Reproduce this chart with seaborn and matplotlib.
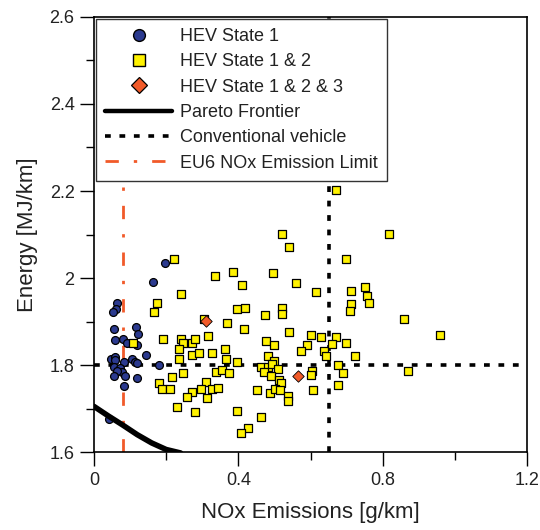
import numpy as np
import pandas as pd
import matplotlib
matplotlib.use("Agg")
import matplotlib.pyplot as plt
import seaborn as sns
from matplotlib.ticker import MultipleLocator
from matplotlib.lines import Line2D

# ---------------- data ----------------
state1_x = [0.196, 0.164, 0.063, 0.061, 0.053, 0.055, 0.117, 0.122, 0.058, 0.080,
            0.092, 0.118, 0.144, 0.046, 0.057, 0.059, 0.083, 0.106, 0.113, 0.118,
            0.181, 0.055, 0.072, 0.078, 0.063, 0.055, 0.086, 0.118, 0.082, 0.042]
state1_y = [2.034, 1.991, 1.943, 1.929, 1.923, 1.883, 1.887, 1.871, 1.857, 1.861,
            1.851, 1.846, 1.824, 1.815, 1.818, 1.811, 1.808, 1.813, 1.808, 1.804,
            1.801, 1.796, 1.794, 1.785, 1.787, 1.775, 1.776, 1.771, 1.752, 1.677]

state12_x = [0.222, 0.335, 0.384, 0.240, 0.176, 0.167, 0.305, 0.368, 0.395, 0.411,
             0.192, 0.240, 0.246, 0.271, 0.280, 0.317, 0.235, 0.271, 0.290, 0.326,
             0.363, 0.236, 0.366, 0.395, 0.247, 0.338, 0.354, 0.373, 0.215, 0.310,
             0.181, 0.189, 0.210, 0.273, 0.297, 0.327, 0.343, 0.257, 0.314, 0.231,
             0.279, 0.397, 0.109,
             0.416, 0.419, 0.474, 0.520, 0.520, 0.497, 0.561, 0.615, 0.520, 0.540,
             0.540, 0.601, 0.629, 0.478, 0.499, 0.589, 0.573, 0.638, 0.643, 0.481,
             0.499, 0.464, 0.481, 0.494, 0.509, 0.472, 0.490, 0.512, 0.518, 0.451,
             0.487, 0.503, 0.516, 0.537, 0.537, 0.603, 0.601, 0.606, 0.464, 0.426,
             0.407,
             0.672, 0.817, 0.699, 0.711, 0.751, 0.757, 0.763, 0.713, 0.709, 0.859,
             0.958, 0.672, 0.660, 0.698, 0.724, 0.675, 0.691, 0.871, 0.677]
state12_y = [2.043, 2.005, 2.014, 1.963, 1.942, 1.923, 1.907, 1.897, 1.928, 1.984,
             1.860, 1.861, 1.850, 1.851, 1.860, 1.867, 1.837, 1.823, 1.828, 1.827,
             1.837, 1.814, 1.815, 1.807, 1.782, 1.785, 1.789, 1.781, 1.773, 1.762,
             1.758, 1.745, 1.746, 1.739, 1.746, 1.745, 1.748, 1.727, 1.725, 1.703,
             1.693, 1.694, 1.850,
             1.884, 1.931, 1.915, 1.930, 1.917, 2.012, 1.988, 1.969, 2.101, 2.071,
             1.877, 1.869, 1.864, 1.856, 1.847, 1.847, 1.833, 1.833, 1.821, 1.821,
             1.810, 1.796, 1.795, 1.802, 1.792, 1.784, 1.775, 1.766, 1.758, 1.742,
             1.736, 1.746, 1.742, 1.730, 1.718, 1.787, 1.777, 1.743, 1.680, 1.656,
             1.645,
             2.202, 2.102, 2.044, 1.971, 1.980, 1.959, 1.943, 1.940, 1.925, 1.907,
             1.869, 1.864, 1.848, 1.850, 1.820, 1.800, 1.782, 1.787, 1.754]

state123_x = [0.310, 0.566]
state123_y = [1.901, 1.775]

pareto_x = [0.000, 0.040, 0.080, 0.120, 0.160, 0.200, 0.240]
pareto_y = [1.705, 1.683, 1.662, 1.640, 1.621, 1.606, 1.598]

conv_nox = 0.65
conv_energy = 1.80
eu6_limit = 0.08

x_ticks = [0.0, 0.4, 0.8, 1.2]
x_tick_labels = ["0", "0.4", "0.8", "1.2"]
y_ticks = [1.6, 1.8, 2.0, 2.2, 2.4, 2.6]
y_tick_labels = ["1.6", "1.8", "2", "2.2", "2.4", "2.6"]

labels = ["HEV State 1", "HEV State 1 & 2", "HEV State 1 & 2 & 3",
          "Pareto Frontier", "Conventional vehicle", "EU6 NOx Emission Limit"]

# ---------------- styling ----------------
BLUE = "#2B3A8F"
YELLOW = "#FFF200"
ORANGE = "#F15A29"
DOT = (0, (1.6, 2.4))
DASHDOT = (0, (4.8, 5.4, 1.2, 5.4))

sns.set_style("ticks")
plt.rcParams["font.family"] = ["Liberation Sans", "DejaVu Sans"]

fig = plt.figure(figsize=(5.4, 5.3), dpi=100)
ax = fig.add_axes([0.174, 0.147, 0.802, 0.821])

# reference lines
ax.axhline(conv_energy, color="black", lw=2.6, ls=DOT, zorder=2)
ax.axvline(conv_nox, color="black", lw=2.6, ls=DOT, zorder=2)
ax.axvline(eu6_limit, color=ORANGE, lw=2.0, ls=DASHDOT, zorder=2)

# scatter groups
sns.scatterplot(x=state1_x, y=state1_y, ax=ax, marker="o", s=32, color=BLUE,
                edgecolor="black", linewidth=0.9, zorder=3)
sns.scatterplot(x=state12_x, y=state12_y, ax=ax, marker="s", s=28, color=YELLOW,
                edgecolor="black", linewidth=0.9, zorder=3)
sns.scatterplot(x=state123_x, y=state123_y, ax=ax, marker="D", s=34, color=ORANGE,
                edgecolor="black", linewidth=0.6, zorder=3)

# pareto frontier
sns.lineplot(x=pareto_x, y=pareto_y, ax=ax, color="black", lw=4, estimator=None,
             sort=False, zorder=4)

ax.set_xlim(0, 1.2)
ax.set_ylim(1.6, 2.6)
ax.set_xticks(x_ticks)
ax.set_xticklabels(x_tick_labels)
ax.set_yticks(y_ticks)
ax.set_yticklabels(y_tick_labels)
ax.xaxis.set_minor_locator(MultipleLocator(0.2))
ax.yaxis.set_minor_locator(MultipleLocator(0.1))
ax.tick_params(axis="both", which="major", direction="out", length=10, width=1,
               labelsize=13, color="black", labelcolor="#222222", pad=4)
ax.tick_params(axis="both", which="minor", direction="out", length=5.5, width=1,
               color="black")
for sp in ax.spines.values():
    sp.set_color("black")
    sp.set_linewidth(1.2)

ax.set_xlabel("NOx Emissions [g/km]", fontsize=16, color="#222222", labelpad=10)
ax.set_ylabel("Energy [MJ/km]", fontsize=16, color="#222222", labelpad=8)

handles = [
    Line2D([], [], ls="none", marker="o", ms=8.5, mfc=BLUE, mec="black", mew=1.0),
    Line2D([], [], ls="none", marker="s", ms=8.2, mfc=YELLOW, mec="black", mew=1.0),
    Line2D([], [], ls="none", marker="D", ms=7.8, mfc=ORANGE, mec="black", mew=0.9),
    Line2D([], [], color="black", lw=3.2),
    Line2D([], [], color="black", lw=2.6, ls=DOT),
    Line2D([], [], color=ORANGE, lw=2.0, ls=DASHDOT),
]
leg = ax.legend(handles, labels, loc="upper left",
                bbox_to_anchor=(0.005, 0.995), borderaxespad=0, fontsize=13,
                frameon=True, fancybox=False, framealpha=1, edgecolor="#333333",
                handlelength=3.7, handletextpad=0.45, labelspacing=0.46,
                borderpad=0.5, numpoints=1)
leg.get_frame().set_linewidth(1.0)
for t in leg.get_texts():
    t.set_color("#222222")
leg.set_zorder(10)

fig.savefig("out.png", dpi=100)
